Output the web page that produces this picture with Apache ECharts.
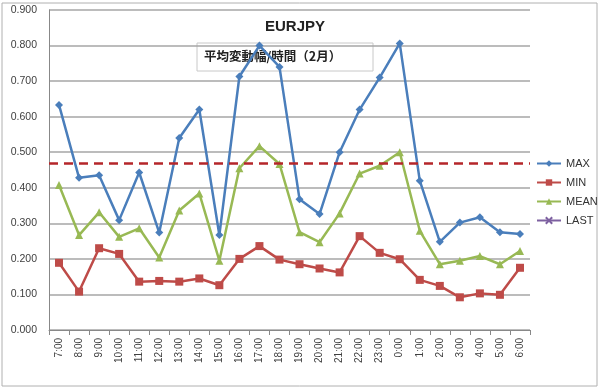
<!DOCTYPE html>
<html><head><meta charset="utf-8">
<script src="https://cdn.jsdelivr.net/npm/echarts@6/dist/echarts.min.js"></script>
<style>html,body{margin:0;padding:0;background:#fff}#c{width:600px;height:389px}</style>
</head><body><div id="c"></div>
<script>
const categories = ['7:00','8:00','9:00','10:00','11:00','12:00','13:00','14:00','15:00','16:00','17:00','18:00','19:00','20:00','21:00','22:00','23:00','0:00','1:00','2:00','3:00','4:00','5:00','6:00'];
const maxValues  = [0.633,0.428,0.435,0.309,0.443,0.274,0.540,0.620,0.267,0.713,0.800,0.740,0.368,0.326,0.500,0.620,0.710,0.806,0.420,0.248,0.302,0.317,0.275,0.270];
const minValues  = [0.189,0.108,0.230,0.214,0.136,0.138,0.136,0.145,0.126,0.200,0.236,0.198,0.185,0.173,0.162,0.264,0.217,0.199,0.141,0.124,0.092,0.103,0.099,0.175];
const meanValues = [0.408,0.267,0.331,0.262,0.286,0.204,0.336,0.384,0.195,0.455,0.517,0.467,0.275,0.247,0.328,0.440,0.462,0.500,0.279,0.185,0.195,0.208,0.185,0.222];
const lastLevel = 0.471;
const yTicks = {min:0, max:0.9, interval:0.1};

const chart = echarts.init(document.getElementById('c'));
const lbl = {fontFamily:'Liberation Sans, Arial, sans-serif', color:'#404040', fontSize:10};
chart.setOption({
  animation:false,
  title:{text:'EURJPY', left:290, top:14, textAlign:'center',
    textStyle:{fontFamily:'Liberation Sans, Arial, sans-serif', fontSize:15, fontWeight:'bold', color:'#222'}},
  graphic:[
    {type:'rect', shape:{x:2,y:3,width:595,height:383}, style:{fill:'none', stroke:'#b0b0b0', lineWidth:1}, z:-1},
    {type:'rect', shape:{x:197,y:43,width:176,height:28}, style:{fill:'none', stroke:'#c8c8c8', lineWidth:1}, z:-1},
    {type:'text', left:204, top:50, z:-1, style:{text:'平均変動幅/時間（2月）', fill:'#222',
      font:'bold 12.5px "Noto Sans CJK JP", sans-serif'}}
  ],
  legend:{orient:'vertical', left:531, top:153, itemGap:8, itemWidth:24, itemHeight:8,
    textStyle:{fontFamily:'Liberation Sans, Arial, sans-serif', fontSize:11, color:'#333'},
    data:['MAX','MIN','MEAN','LAST']},
  grid:{left:49, right:70, top:10, bottom:59},
  xAxis:{type:'category', data:categories, boundaryGap:true,
    axisLine:{lineStyle:{color:'#888'}}, axisTick:{show:true, interval:0, length:5, lineStyle:{color:'#888'}},
    axisLabel:Object.assign({rotate:90, interval:0, margin:8}, lbl)},
  yAxis:{type:'value', min:yTicks.min, max:yTicks.max, interval:yTicks.interval,
    axisLine:{show:true, lineStyle:{color:'#888'}}, axisTick:{show:false},
    splitLine:{lineStyle:{color:'#a6a6a6', width:1.5}},
    axisLabel:Object.assign({formatter:v=>v.toFixed(3), margin:12}, lbl, {fontSize:10.5})},
  series:[
    {name:'MAX', type:'line', data:maxValues, symbol:'diamond', symbolSize:8,
      itemStyle:{color:'#4A7EBB'}, lineStyle:{width:2.5, color:'#4A7EBB'},
      markLine:{silent:true, symbol:'none', label:{show:false},
        lineStyle:{color:'#B5262A', type:[9,6], width:2.5}, data:[{yAxis:lastLevel}]}},
    {name:'MIN', type:'line', data:minValues, symbol:'rect', symbolSize:8,
      itemStyle:{color:'#BE4B48'}, lineStyle:{width:2.5, color:'#BE4B48'}},
    {name:'MEAN', type:'line', data:meanValues, symbol:'triangle', symbolSize:8,
      itemStyle:{color:'#98B954'}, lineStyle:{width:2.5, color:'#98B954'}},
    {name:'LAST', type:'line', data:[], symbol:'path://M0,0L10,10M10,0L0,10', symbolSize:8,
      itemStyle:{color:'#7D60A0', borderColor:'#7D60A0', borderWidth:1.5}, lineStyle:{width:2.5, color:'#7D60A0'}}
  ]
});
</script></body></html>
